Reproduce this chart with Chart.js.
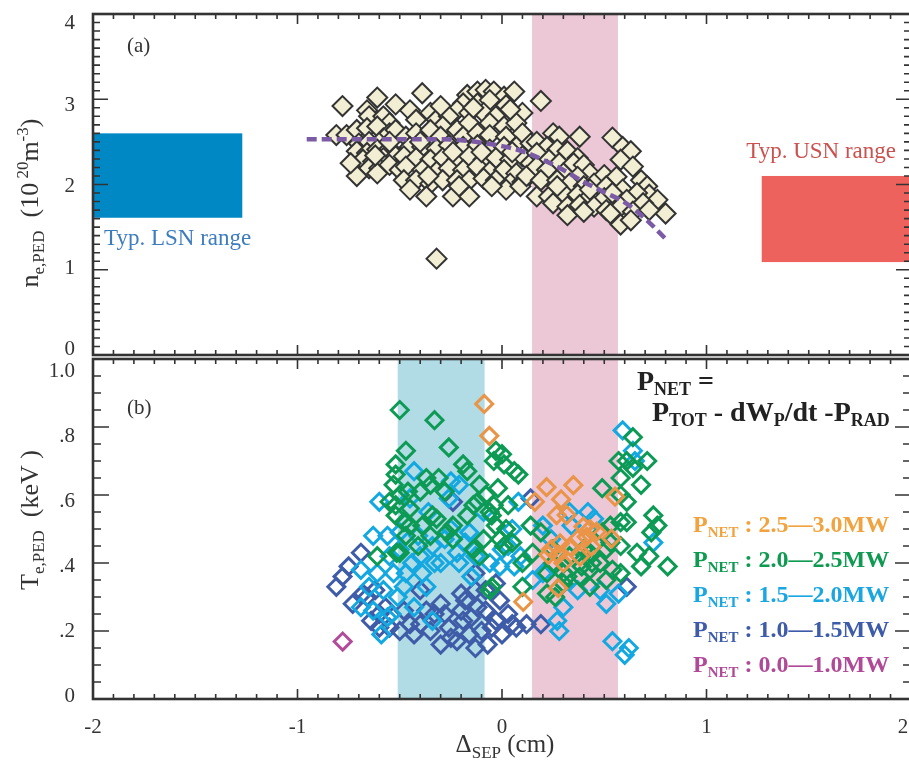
<!DOCTYPE html>
<html><head><meta charset="utf-8">
<script src="https://cdn.jsdelivr.net/npm/chart.js@4.4.1/dist/chart.umd.min.js"></script>
<style>
html,body{margin:0;padding:0;background:#fff;overflow:hidden;width:909px;height:769px}
#c1{position:absolute;left:0;top:0;z-index:1}
#c2{position:absolute;left:0;top:330px;z-index:2}
</style></head><body>
<canvas id="c1" width="912" height="357"></canvas>
<canvas id="c2" width="912" height="439"></canvas>
<script>
// ---------- DATA ----------
// panel (a): pedestal density vs separatrix distance
const nePoints = [
[-0.78,2.92],[-0.61,3.02],[-0.52,2.94],[-0.66,2.87],[-0.65,2.80],[-0.58,2.80],[-0.55,2.72],[-0.81,2.58],[-0.76,2.58],[-0.71,2.64],[-0.66,2.66],[-0.61,2.68],[-0.70,2.48],[-0.65,2.50],[-0.58,2.54],[-0.55,2.60],[-0.52,2.64],[-0.71,2.39],[-0.66,2.37],[-0.61,2.41],[-0.55,2.42],[-0.68,2.29],[-0.63,2.27],[-0.58,2.31],[-0.52,2.33],[-0.65,2.19],[-0.60,2.19],[-0.55,2.23],[-0.71,2.10],[-0.61,2.13],[-0.50,2.17],[-0.47,2.29],
[-0.39,3.07],[-0.17,3.05],[-0.12,3.09],[-0.08,3.11],[-0.04,3.09],[0.01,3.03],[0.06,3.09],[-0.19,2.95],[-0.12,2.95],[-0.06,2.99],[0.02,2.93],[-0.22,2.87],[-0.35,2.84],[-0.45,2.87],[-0.42,2.76],[-0.32,2.76],[-0.26,2.80],[-0.16,2.84],[-0.09,2.84],[-0.03,2.80],[0.10,2.84],[-0.29,2.68],[-0.22,2.64],[-0.16,2.72],[-0.06,2.72],[0.01,2.68],[0.07,2.72],[-0.47,2.56],[-0.42,2.60],[-0.35,2.64],[-0.30,2.56],[-0.19,2.56],[-0.12,2.60],[-0.06,2.58],[0.02,2.56],[0.10,2.60],[-0.45,2.44],[-0.39,2.44],[-0.32,2.42],[-0.26,2.46],[-0.19,2.44],[-0.12,2.46],[-0.06,2.41],[0.01,2.44],[0.07,2.44],[0.14,2.48],[-0.48,2.33],[-0.42,2.31],[-0.35,2.29],[-0.29,2.31],[-0.22,2.29],[-0.16,2.33],[-0.09,2.29],[-0.03,2.31],[0.04,2.29],[0.10,2.33],[-0.47,2.21],[-0.39,2.17],[-0.32,2.15],[-0.26,2.19],[-0.19,2.17],[-0.12,2.21],[-0.06,2.15],[0.01,2.17],[0.07,2.13],[0.14,2.25],[-0.48,2.05],[-0.42,2.05],[-0.35,2.01],[-0.29,2.05],[-0.22,2.05],[-0.16,2.05],[-0.09,2.07],[-0.03,2.05],[0.04,2.01],[0.10,2.03],[-0.45,1.94],[-0.37,1.86],[-0.24,1.86],[-0.16,1.86],[-0.21,1.98],[0.02,1.94],[0.09,1.98],[-0.32,1.13],
[-0.30,2.92],[-0.14,2.90],[0.04,2.88],[-0.55,2.50],[-0.40,2.50],[-0.24,2.38],[-0.10,2.38],[0.05,2.38],[-0.36,2.10],[-0.05,1.98],[0.12,2.10],[-0.62,2.34],[-0.74,2.25],
[0.19,2.98],[0.25,2.60],[0.28,2.56],[0.38,2.56],[0.54,2.55],[0.17,2.50],[0.22,2.44],[0.27,2.41],[0.32,2.39],[0.37,2.31],[0.17,2.37],[0.23,2.29],[0.28,2.25],[0.35,2.25],[0.40,2.23],[0.43,2.13],[0.50,2.11],[0.56,2.09],[0.59,2.44],[0.63,2.39],[0.58,2.29],[0.64,2.21],[0.68,2.05],[0.71,1.98],[0.72,1.88],[0.76,1.82],[0.80,1.66],[0.17,2.21],[0.22,2.17],[0.30,2.13],[0.37,2.09],[0.19,2.05],[0.27,2.05],[0.33,2.01],[0.40,1.98],[0.45,2.01],[0.51,1.98],[0.59,1.94],[0.66,1.90],[0.17,1.86],[0.23,1.86],[0.30,1.90],[0.37,1.88],[0.43,1.86],[0.50,1.84],[0.54,1.90],[0.61,1.82],[0.69,1.78],[0.25,1.78],[0.32,1.74],[0.38,1.76],[0.45,1.74],[0.51,1.70],[0.58,1.74],[0.64,1.68],[0.72,1.70],[0.32,1.64],[0.40,1.68],[0.53,1.66],[0.58,1.53],[0.63,1.58],[0.43,1.94],[0.27,1.98]
];
const fitDelta = [-0.955,-0.6,-0.3,-0.2,-0.1,0,0.1,0.2,0.3,0.4,0.5,0.6,0.7,0.805];
const fitNe    = [2.53,2.53,2.53,2.52,2.49,2.45,2.39,2.29,2.17,2.03,1.91,1.79,1.60,1.35];
const lsnBox = [-2, -1.27, 1.61, 2.60];   // xmin, xmax, ymin, ymax
const usnBox = [1.27, 2, 1.09, 2.10];
const pinkBand = [0.147, 0.567];
const blueBand = [-0.51, -0.085];

// panel (b): pedestal temperature, grouped by P_NET
const te25 = [[-0.087,0.868],[-0.062,0.774],[0.161,0.580],[0.218,0.623],[0.349,0.629],[0.289,0.587],[0.267,0.541],[0.316,0.541],[0.553,0.595],[0.398,0.507],[0.43,0.50],[0.463,0.492],[0.414,0.477],[0.37,0.47],[0.536,0.472],[0.438,0.448],[0.284,0.458],[0.333,0.448],[0.227,0.424],[0.275,0.424],[0.381,0.419],[0.275,0.326],[0.104,0.286],[0.30,0.40],[0.24,0.44]];
const te20 = [[-0.50,0.85],[-0.33,0.82],[-0.26,0.74],[-0.47,0.73],[-0.52,0.69],[-0.53,0.63],[-0.52,0.57],[-0.37,0.65],[-0.40,0.61],[-0.35,0.63],[-0.31,0.65],[-0.28,0.61],[-0.17,0.67],[-0.19,0.69],[-0.03,0.73],[0.00,0.72],[-0.04,0.70],[0.01,0.69],[0.08,0.66],[0.06,0.67],[-0.11,0.63],[-0.02,0.62],[-0.12,0.58],[-0.04,0.57],[0.03,0.57],[-0.17,0.54],[-0.24,0.51],[-0.32,0.53],[-0.39,0.51],[-0.48,0.52],[-0.52,0.54],[-0.47,0.48],[-0.41,0.45],[-0.35,0.48],[-0.50,0.43],[-0.61,0.42],[-0.14,0.44],[-0.09,0.47],[-0.03,0.51],[0.01,0.45],[-0.05,0.54],[0.14,0.51],[0.15,0.43],[0.10,0.40],[0.22,0.37],[0.25,0.40],[0.30,0.37],[0.39,0.39],[0.44,0.40],[0.48,0.40],[0.51,0.44],[0.58,0.45],[0.66,0.43],[0.72,0.42],[0.81,0.39],[0.68,0.39],[0.58,0.37],[0.51,0.35],[0.43,0.33],[0.22,0.31],[0.26,0.30],[0.10,0.33],[-0.05,0.33],[0.64,0.77],[0.57,0.70],[0.71,0.70],[0.61,0.70],[0.64,0.68],[0.49,0.62],[0.58,0.65],[0.68,0.63],[0.58,0.60],[0.61,0.58],[0.74,0.54],[0.76,0.51],[0.73,0.49],[0.58,0.52],[0.53,0.51],[0.61,0.52],[0.49,0.49],[0.53,0.46],[0.40,0.44],[0.43,0.43],[0.19,0.49],[0.33,0.42],[0.25,0.44],[0.30,0.34],[0.38,0.36],[0.43,0.38],[0.54,0.38],[0.32,0.36],[-0.52,0.66],[-0.46,0.61],[-0.50,0.60],[-0.55,0.58],[-0.45,0.56],[-0.45,0.51],[-0.34,0.54],[-0.27,0.49],[-0.24,0.47],[-0.14,0.57],[-0.08,0.60],[-0.06,0.55],[0.02,0.50],[-0.01,0.47],[0.05,0.46],[-0.11,0.42],[-0.06,0.32],[-0.515,0.43]];
const te15 = [[0.59,0.79],[0.64,0.73],[0.65,0.70],[-0.43,0.67],[-0.25,0.64],[-0.21,0.63],[-0.60,0.58],[-0.45,0.59],[-0.26,0.59],[-0.09,0.55],[0.08,0.58],[0.05,0.50],[0.20,0.51],[0.24,0.47],[0.33,0.55],[-0.63,0.48],[-0.56,0.48],[-0.50,0.49],[-0.41,0.48],[-0.28,0.47],[-0.22,0.43],[-0.34,0.45],[-0.69,0.38],[-0.61,0.37],[-0.53,0.37],[-0.47,0.37],[-0.39,0.37],[-0.30,0.40],[-0.06,0.40],[-0.01,0.39],[0.06,0.39],[0.03,0.45],[0.09,0.42],[-0.65,0.33],[-0.58,0.32],[-0.51,0.30],[-0.43,0.27],[-0.69,0.27],[-0.56,0.24],[-0.59,0.19],[-0.34,0.23],[0.42,0.55],[0.34,0.51],[0.45,0.53],[0.74,0.46],[0.48,0.32],[0.51,0.28],[0.27,0.23],[0.28,0.20],[0.54,0.17],[0.60,0.13],[0.62,0.15],[0.30,0.27],[0.37,0.32],[0.57,0.31],[-0.13,0.42],[-0.21,0.40],[-0.15,0.36],[-0.63,0.26],[-0.54,0.25],[-0.16,0.49],[-0.36,0.55],[-0.44,0.40],[-0.50,0.44],[0.20,0.37],[0.15,0.35],[-0.40,0.42],[-0.33,0.40],[-0.25,0.50],[-0.18,0.46],[0.00,0.44],[-0.48,0.33],[-0.37,0.33],[-0.55,0.42]];
const te10 = [[-0.24,0.58],[-0.69,0.43],[-0.75,0.39],[-0.78,0.36],[-0.81,0.33],[-0.73,0.28],[-0.66,0.30],[-0.62,0.32],[-0.64,0.23],[-0.60,0.25],[-0.50,0.20],[-0.55,0.21],[-0.45,0.22],[-0.43,0.19],[-0.37,0.26],[-0.33,0.25],[-0.28,0.25],[-0.25,0.18],[-0.19,0.23],[-0.13,0.32],[-0.08,0.32],[-0.12,0.27],[-0.08,0.26],[-0.01,0.29],[-0.03,0.23],[-0.13,0.15],[-0.07,0.16],[-0.16,0.19],[0.00,0.19],[0.07,0.21],[0.12,0.22],[0.19,0.22],[-0.13,0.37],[-0.03,0.34],[0.61,0.33],[0.14,0.59],[-0.40,0.32],[-0.30,0.28],[-0.20,0.26],[-0.10,0.20],[-0.40,0.22],[-0.48,0.26],[-0.57,0.27],[-0.26,0.21],[-0.18,0.29],[-0.05,0.21],[0.03,0.25],[-0.35,0.20],[-0.22,0.17],[-0.15,0.24],[0.05,0.22],[-0.30,0.16],[-0.20,0.31],[-0.60,0.21],[-0.68,0.31]];
const te00 = [[-0.779,0.169]];
const seriesRanges = ['2.5\u20143.0MW','2.0\u20142.5MW','1.5\u20142.0MW','1.0\u20141.5MW','0.0\u20141.0MW'];

// ---------- STYLE ----------
const SERIF = "'Liberation Serif','DejaVu Serif',serif";
const seriesColors = ['#ea9448','#0d9a55','#14a8e1','#3e5ca8','#b34b9b'];
const legendColors = ['#f0a33f','#0f9a52','#1aa6e0','#3d5ba8','#b04a98'];
const INK = '#333';

const toXY = a => a.map(p => ({x:p[0], y:p[1]}));

function rich(ctx, parts, x, y, align){
  // parts: [text, size, bold, dy]
  const f = p => (p[2]?'bold ':'') + p[1] + 'px ' + SERIF;
  let w = 0;
  for (const p of parts){ ctx.font = f(p); w += ctx.measureText(p[0]).width; }
  let cx = align==='center' ? x - w/2 : align==='right' ? x - w : x;
  for (const p of parts){ ctx.font = f(p); ctx.fillText(p[0], cx, y + (p[3]||0)); cx += ctx.measureText(p[0]).width; }
}

function frameTicks(chart, o){
  const {ctx, chartArea:a, scales:{x, y}} = chart;
  ctx.save();
  ctx.strokeStyle = INK; ctx.lineWidth = 1.6;
  ctx.beginPath();
  const ny = Math.round((y.max - y.min)/o.yMinor);
  for (let i=0;i<=ny;i++){
    const v = y.min + i*o.yMinor, r = v/o.yMajor;
    const major = Math.abs(r - Math.round(r)) < 1e-6;
    const L = major ? o.yMajorLen : o.yMinorLen, p = y.getPixelForValue(v);
    ctx.moveTo(a.left, p); ctx.lineTo(a.left + L, p);
    ctx.moveTo(a.right, p); ctx.lineTo(a.right - L, p);
  }
  const nx = Math.round((x.max - x.min)/0.1);
  for (let i=0;i<=nx;i++){
    const v = x.min + i*0.1, major = Math.abs(v - Math.round(v)) < 1e-6;
    const L = major ? 10 : 5, p = x.getPixelForValue(v);
    ctx.moveTo(p, a.bottom); ctx.lineTo(p, a.bottom - L);
    ctx.moveTo(p, a.top); ctx.lineTo(p, a.top + L);
  }
  ctx.stroke();
  ctx.lineWidth = 2.6;
  ctx.strokeRect(a.left, a.top, a.right - a.left, a.bottom - a.top);
  ctx.restore();
}

function fillBox(chart, x0, x1, y0, y1, color){
  const {ctx, scales:{x, y}} = chart;
  const px0 = x.getPixelForValue(x0), px1 = x.getPixelForValue(x1);
  const py0 = y.getPixelForValue(y0), py1 = y.getPixelForValue(y1);
  ctx.fillStyle = color;
  ctx.fillRect(px0, py1, px1 - px0, py0 - py1);
}

// compress tick labels slightly toward the axis centre, like the original
const labelPlace = {
  id:'labelPlace',
  beforeDraw(chart, args, o){
    const s = chart.scales.y, items = s.getLabelItems();
    const c = (s.top + s.bottom)/2;
    items.forEach((it, i) => {
      const p = s.getPixelForTick(i);
      it.options.translation[1] = c + (p - c)*o.k + o.shift;
    });
    const sx = chart.scales.x;
    if (sx.options.display){
      const xi = sx.getLabelItems();
      xi.forEach((it, i) => { if (sx.ticks[i].value === 2) it.options.translation[0] = 903; });
    }
  }
};

const yAxisBase = (min, max, step, cb) => ({
  min, max, position:'left',
  afterFit(s){ s.width = 93; s.paddingTop = 0; s.paddingBottom = 0; },
  grid:{display:false, drawTicks:false}, border:{display:false},
  ticks:{stepSize:step, autoSkip:false, padding:18, color:INK, font:{family:SERIF, size:21}, callback:cb}
});

// ---------- CHART (a) ----------
new Chart(document.getElementById('c1'), {
  type:'scatter',
  data:{datasets:[
    {type:'line', data: fitDelta.map((d,i)=>({x:d, y:fitNe[i]})), borderColor:'#7b5aa6', borderWidth:4.5,
     borderDash:[10,5], pointRadius:0, cubicInterpolationMode:'monotone', fill:false},
    {data: toXY(nePoints), pointStyle:'rectRot', pointRadius:10, backgroundColor:'#f1eed3',
     borderColor:'#333', borderWidth:2}
  ]},
  options:{
    responsive:false, animation:false, devicePixelRatio:1, events:[],
    layout:{autoPadding:false, padding:{left:0, right:1, top:14, bottom:2}},
    plugins:{legend:{display:false}, tooltip:{enabled:false}, labelPlace:{k:0.956, shift:2}},
    scales:{
      x:{type:'linear', min:-2, max:2, display:false},
      y: yAxisBase(0, 4, 1, v => String(v))
    }
  },
  plugins:[labelPlace, {
    id:'panelA',
    beforeDatasetsDraw(chart){
      const {ctx} = chart; ctx.save();
      fillBox(chart, pinkBand[0], pinkBand[1], 0, 4, '#ecc7d6');
      fillBox(chart, lsnBox[0], lsnBox[1], lsnBox[2], lsnBox[3], '#0088c5');
      fillBox(chart, usnBox[0], usnBox[1], usnBox[2], usnBox[3], '#ed625c');
      ctx.restore();
    },
    afterDraw(chart){
      const {ctx} = chart;
      frameTicks(chart, {yMinor:0.1, yMajor:1, yMinorLen:7, yMajorLen:15});
      ctx.save(); ctx.textBaseline = 'alphabetic';
      ctx.fillStyle = INK; rich(ctx, [['(a)',21,false,0]], 127, 52, 'left');
      ctx.fillStyle = '#3d7cbd'; rich(ctx, [['Typ. LSN range',23,false,0]], 104, 245, 'left');
      ctx.fillStyle = '#c9514f'; rich(ctx, [['Typ. USN range',23,false,0]], 896, 158, 'right');
      ctx.translate(38, 203); ctx.rotate(-Math.PI/2); ctx.fillStyle = INK;
      rich(ctx, [['n',26],['e,PED',17,false,6],['  (10',26],[' 20',17,false,-10],['m',26],['-3',17,false,-10],[')',26]], 0, 0, 'center');
      ctx.restore();
    }
  }]
});

// ---------- CHART (b) ----------
const mk = (data, i) => ({data: toXY(data), pointStyle:'rectRot', pointRadius:8.5, backgroundColor:'rgba(0,0,0,0)',
  borderColor: seriesColors[i], borderWidth:3});
new Chart(document.getElementById('c2'), {
  type:'scatter',
  data:{datasets:[mk(te25,0), mk(te20,1), mk(te15,2), mk(te10,3), mk(te00,4)]},
  options:{
    responsive:false, animation:false, devicePixelRatio:1, events:[],
    layout:{autoPadding:false, padding:{left:0, right:1, top:29, bottom:0}},
    plugins:{legend:{display:false}, tooltip:{enabled:false}, labelPlace:{k:0.956, shift:5}},
    scales:{
      x:{type:'linear', min:-2, max:2, position:'bottom',
         afterFit(s){ s.height = 70; s.paddingLeft = 0; s.paddingRight = 0; },
         grid:{display:false, drawTicks:false}, border:{display:false},
         ticks:{stepSize:1, autoSkip:false, padding:16, color:INK, font:{family:SERIF, size:21}, maxRotation:0}},
      y: yAxisBase(0, 1, 0.2, v => { const r = Math.round(v*10)/10; return r===0 ? '0' : r===1 ? '1.0' : r.toFixed(1).replace(/^0/, ''); })
    }
  },
  plugins:[labelPlace, {
    id:'panelB',
    beforeDatasetsDraw(chart){
      const {ctx} = chart; ctx.save();
      fillBox(chart, blueBand[0], blueBand[1], 0, 1, '#b1dce5');
      fillBox(chart, pinkBand[0], pinkBand[1], 0, 1, '#ecc7d6');
      ctx.restore();
    },
    afterDraw(chart){
      const {ctx} = chart;
      frameTicks(chart, {yMinor:0.05, yMajor:0.2, yMinorLen:8, yMajorLen:16});
      ctx.save(); ctx.textBaseline = 'alphabetic';
      ctx.fillStyle = INK; rich(ctx, [['(b)',21,false,0]], 127, 84, 'left');
      ctx.fillStyle = '#222';
      rich(ctx, [['P',28,true],['NET',18,true,5],[' =',28,true]], 637, 60, 'left');
      rich(ctx, [['P',28,true],['TOT',18,true,5],[' - dW',28,true],['P',18,true,5],['/dt -P',28,true],['RAD',18,true,5]], 652, 91, 'left');
      seriesRanges.forEach((r, i) => {
        ctx.fillStyle = legendColors[i];
        rich(ctx, [['P',24,true],['NET',15,true,5],[' : ' + r,24,true]], 693, 202 + i*35, 'left');
      });
      ctx.fillStyle = INK;
      rich(ctx, [['\u0394',25],['SEP',17,false,6],[' (cm)',25]], 505, 422, 'center');
      ctx.translate(38, 190); ctx.rotate(-Math.PI/2);
      rich(ctx, [['T',26],['e,PED',17,false,6],['  (keV )',26]], 0, 0, 'center');
      ctx.restore();
    }
  }]
});
</script>
</body></html>
